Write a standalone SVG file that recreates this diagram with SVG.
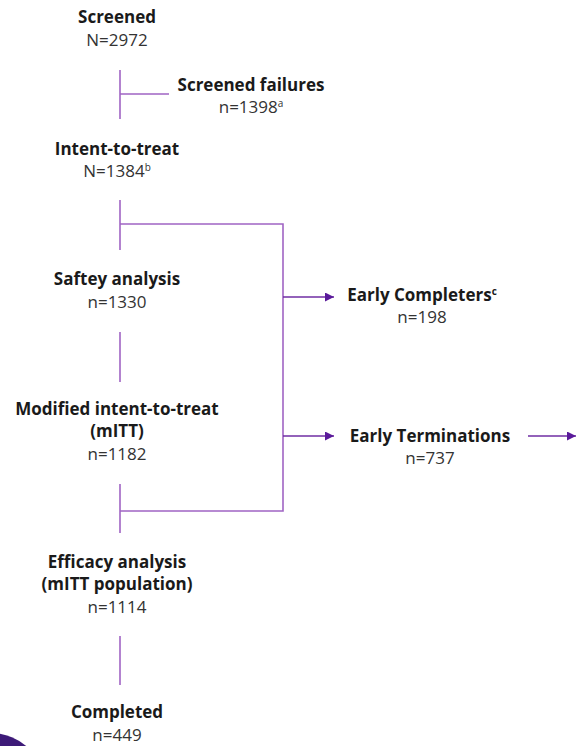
<svg xmlns="http://www.w3.org/2000/svg" width="576" height="746" viewBox="0 0 576 746">
<defs>
<style>
.t{font-family:"Open Sans",Lato,"Liberation Sans",sans-serif;font-size:17px;text-anchor:middle}
.b{font-weight:bold;fill:#1a1a1a}
.r{font-weight:normal;fill:#333}
.ln{stroke:#a064c4;stroke-width:1.6;fill:none}
.ar{stroke:#6f2ea3;stroke-width:1.6;fill:none;marker-end:url(#ah)}
.sup{font-size:10px}
</style>
<marker id="ah" viewBox="0 0 8 8" refX="8" refY="4" markerWidth="9" markerHeight="9" markerUnits="userSpaceOnUse" orient="auto">
<path d="M0,0 L8,4 L0,8 Z" fill="#5a1a9a"/>
</marker>
</defs>
<rect width="576" height="746" fill="#ffffff"/>
<circle cx="-10" cy="790" r="57" fill="#3d1a78"/>
<g id="connectors">
<path class="ln" d="M120,70 V119 M120,94 H169"/>
<path class="ln" d="M120,200 V250 M120,224 H283 V511 H120 M120,332 V382 M120,484 V533"/>
<path class="ln" d="M120,636 V685"/>
<path class="ar" d="M283,297 H334"/>
<path class="ar" d="M283,436 H334"/>
<path class="ar" d="M528,436 H576"/>
</g>
<g id="screened"><text class="t b" x="117" y="23">Screened</text><text class="t r" x="117" y="46">N=2972</text></g>
<g id="screened-failures"><text class="t b" x="251" y="91">Screened failures</text><text class="t r" x="251" y="113">n=1398<tspan class="sup" dy="-6">a</tspan></text></g>
<g id="itt"><text class="t b" x="117" y="155">Intent-to-treat</text><text class="t r" x="117" y="177">N=1384<tspan class="sup" dy="-6">b</tspan></text></g>
<g id="safety"><text class="t b" x="117" y="285">Saftey analysis</text><text class="t r" x="117" y="308">n=1330</text></g>
<g id="early-completers"><text class="t b" x="422" y="301">Early Completers<tspan class="sup" dy="-6">c</tspan></text><text class="t r" x="422" y="323">n=198</text></g>
<g id="mitt"><text class="t b" x="117" y="415">Modified intent-to-treat</text><text class="t b" x="117" y="437">(mITT)</text><text class="t r" x="117" y="460">n=1182</text></g>
<g id="early-terminations"><text class="t b" x="430" y="442">Early Terminations</text><text class="t r" x="430" y="464">n=737</text></g>
<g id="efficacy"><text class="t b" x="117" y="568">Efficacy analysis</text><text class="t b" x="117" y="590">(mITT population)</text><text class="t r" x="117" y="613">n=1114</text></g>
<g id="completed"><text class="t b" x="117" y="718">Completed</text><text class="t r" x="117" y="741">n=449</text></g>
</svg>
